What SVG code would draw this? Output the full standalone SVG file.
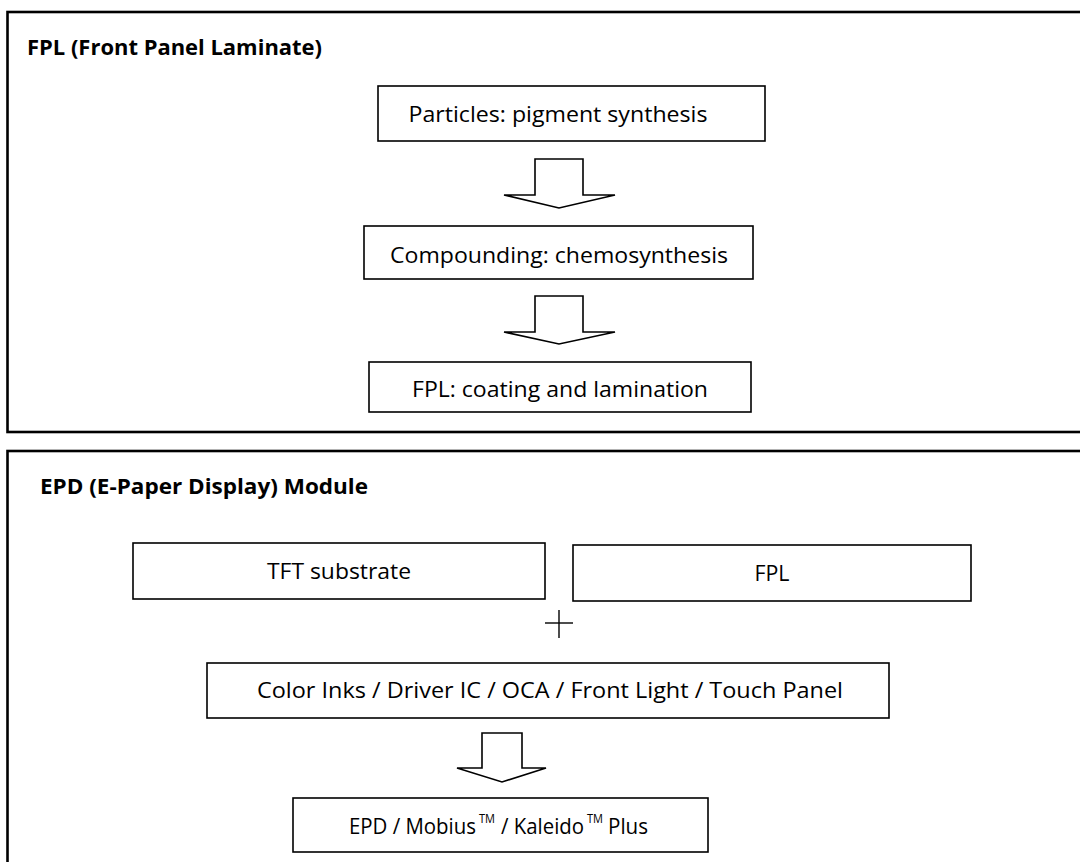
<svg xmlns="http://www.w3.org/2000/svg" width="1080" height="862" viewBox="0 0 1080 862">
<style>
.panel{fill:none;stroke:#000;stroke-width:2.6}
.box{fill:#fff;stroke:#000;stroke-width:1.6}
.arrow{fill:#fff;stroke:#000;stroke-width:1.6;stroke-linejoin:miter}
.plus{stroke:#000;stroke-width:1.4}
.t{font-family:"Open Sans","Liberation Sans",sans-serif;font-size:22.5px;fill:#000;text-anchor:middle}
.s{font-family:"Open Sans","Liberation Sans",sans-serif;font-size:22.5px;fill:#000}
.sup{font-family:"Open Sans","Liberation Sans",sans-serif;font-size:13px;fill:#000}
.title{font-family:"Open Sans","Liberation Sans",sans-serif;font-size:21px;font-weight:bold;fill:#000}
</style>
<rect width="1080" height="862" fill="#fff"/>
<g id="panel-fpl">
<rect class="panel" x="7.5" y="12" width="1100" height="420"/>
<text class="title" x="27" y="55" textLength="295" lengthAdjust="spacingAndGlyphs">FPL (Front Panel Laminate)</text>
</g>
<g id="panel-epd">
<rect class="panel" x="7.5" y="451" width="1100" height="500"/>
<text class="title" x="40" y="494" textLength="328" lengthAdjust="spacingAndGlyphs">EPD (E-Paper Display) Module</text>
</g>
<g id="node-particles">
<rect class="box" x="378" y="86" width="387" height="55"/>
<text class="t" x="558" y="122" textLength="299" lengthAdjust="spacingAndGlyphs">Particles: pigment synthesis</text>
</g>
<g id="node-compounding">
<rect class="box" x="364" y="226" width="389" height="53"/>
<text class="t" x="559" y="263" textLength="338" lengthAdjust="spacingAndGlyphs">Compounding: chemosynthesis</text>
</g>
<g id="node-coating">
<rect class="box" x="369" y="362" width="382" height="50"/>
<text class="t" x="560" y="397" textLength="296" lengthAdjust="spacingAndGlyphs">FPL: coating and lamination</text>
</g>
<g id="node-tft">
<rect class="box" x="133" y="543" width="412" height="56"/>
<text class="t" x="339" y="579" textLength="144" lengthAdjust="spacingAndGlyphs">TFT substrate</text>
</g>
<g id="node-fpl">
<rect class="box" x="573" y="545" width="398" height="56"/>
<text class="t" x="772" y="581" textLength="35" lengthAdjust="spacingAndGlyphs">FPL</text>
</g>
<g id="node-components">
<rect class="box" x="207" y="663" width="682" height="55"/>
<text class="t" x="550" y="698" textLength="586" lengthAdjust="spacingAndGlyphs">Color Inks / Driver IC / OCA / Front Light / Touch Panel</text>
</g>
<g id="node-epd">
<rect class="box" x="293" y="798" width="415" height="54"/>
<text class="s" x="349" y="834" textLength="127" lengthAdjust="spacingAndGlyphs">EPD / Mobius</text>
<text class="sup" x="479" y="823" textLength="16" lengthAdjust="spacingAndGlyphs">TM</text>
<text class="s" x="501" y="834" textLength="83" lengthAdjust="spacingAndGlyphs">/ Kaleido</text>
<text class="sup" x="587" y="823" textLength="16" lengthAdjust="spacingAndGlyphs">TM</text>
<text class="s" x="608" y="834" textLength="40" lengthAdjust="spacingAndGlyphs">Plus</text>
</g>
<g id="connectors">
<polygon class="arrow" points="535,159 583,159 583,195 615,195 559,208 504,195 535,195"/>
<polygon class="arrow" points="535,296 583,296 583,332 615,332 559,344 504,332 535,332"/>
<polygon class="arrow" points="482,733 522,733 522,768 546,768 502,782 457,768 482,768"/>
<line class="plus" x1="545" y1="623" x2="573" y2="623"/>
<line class="plus" x1="559" y1="610" x2="559" y2="638"/>
</g>
</svg>
